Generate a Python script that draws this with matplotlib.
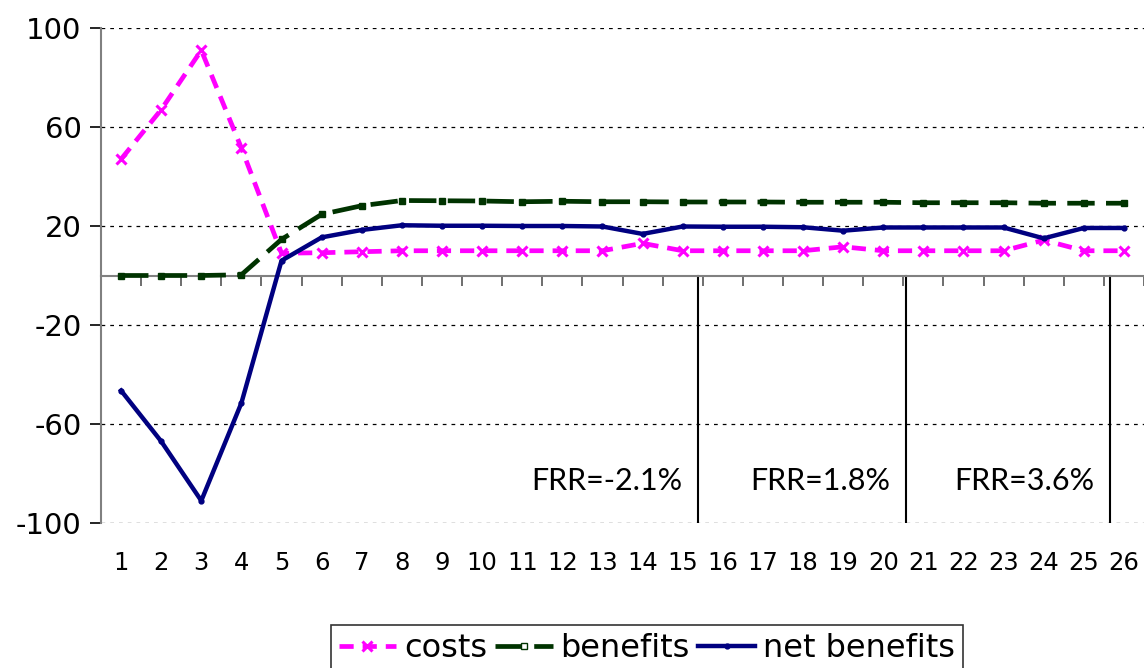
import matplotlib
matplotlib.use("Agg")
import matplotlib.pyplot as plt
import numpy as np

years = list(range(1, 27))
costs = [47, 67, 91, 51.5, 9, 9.2, 9.6, 10, 10, 10, 10, 10, 10, 13, 10, 10,
         10, 10, 11.6, 10, 10, 10, 10, 14.3, 10, 10]
benefits = [0, 0, 0, 0.3, 14.6, 24.7, 28.2, 30.3, 30.2, 30.1, 29.8, 30.0, 29.8, 29.8,
            29.7, 29.7, 29.7, 29.6, 29.6, 29.6, 29.4, 29.4, 29.4, 29.2, 29.2, 29.2]
net_benefits = [-46.5, -67, -91, -51.5, 6, 15.4, 18.4, 20.3, 20.1, 20.1, 20.0, 20.0, 19.8,
                16.8, 19.8, 19.7, 19.7, 19.5, 18.1, 19.4, 19.4, 19.4, 19.4, 15.0, 19.2, 19.2]
yticks = [-100, -60, -20, 20, 60, 100]
frr_labels = ["FRR=-2.1%", "FRR=1.8%", "FRR=3.6%"]
frr_label_x = [13.12, 18.43, 23.52]
frr_lines_x = [15.38, 20.57, 25.64]

fig = plt.figure(figsize=(11.44, 6.68), dpi=100)
ax = fig.add_axes([101 / 1144, 1 - 523 / 668, 1 - 101 / 1144, 495 / 668])

ax.plot(years, costs, color="#FF00FF", lw=3.4, dashes=(3, 1.9), marker="x",
        ms=7, mew=2.2, label="costs", zorder=3)
ax.plot(years, benefits, color="#003300", lw=3.4, dashes=(5.8, 2.4), marker="s",
        ms=5, label="benefits", zorder=3)
ax.plot(years, net_benefits, color="#000080", lw=3.2, marker="o", ms=3.5,
        label="net benefits", zorder=4)

ax.set_xlim(0.5, 26.5)
ax.set_ylim(-100, 100)
ax.set_yticks(yticks)
ax.set_yticklabels([str(v) for v in yticks])
ax.grid(axis="y", color="black", lw=0.9, linestyle=(0, (3, 4)))
ax.set_axisbelow(True)

# category axis drawn on top spine placed at zero
ax.spines["right"].set_visible(False)
ax.spines["bottom"].set_visible(False)
ax.spines["top"].set_position(("data", 0))
ax.spines["top"].set_color("#808080")
ax.spines["top"].set_linewidth(1.5)
ax.spines["left"].set_color("#808080")
ax.spines["left"].set_linewidth(1.5)

ax.set_xticks(years)
ax.set_xticklabels([str(y) for y in years])
ax.set_xticks(np.arange(0.5, 27, 1), minor=True)
ax.tick_params(axis="x", which="major", length=0, bottom=True, top=False,
               labelsize=17.5, pad=20)
ax.tick_params(axis="x", which="minor", top=True, bottom=False, direction="in",
               length=7, width=1.2, color="#555555")
ax.tick_params(axis="y", length=8, width=1.2, labelsize=21, pad=6)

for xv in frr_lines_x:
    ax.plot([xv, xv], [0, -100], color="black", lw=1.5, zorder=2)
for xv, txt in zip(frr_label_x, frr_labels):
    ax.text(xv, -83, txt, ha="center", va="center", fontsize=22,
            family=["Lato", "DejaVu Sans"])

leg = fig.legend(loc="upper center", bbox_to_anchor=(647 / 1144, 1 - 625 / 668),
                 ncol=3, fontsize=23, frameon=True, fancybox=False,
                 handlelength=1.8, handletextpad=0.25, columnspacing=0.25,
                 borderpad=0.25, borderaxespad=0)
leg.get_frame().set_edgecolor("black")
leg.get_frame().set_linewidth(1.2)
leg.legend_handles[1].set_markerfacecolor("white")

fig.savefig("out.png", dpi=100)
